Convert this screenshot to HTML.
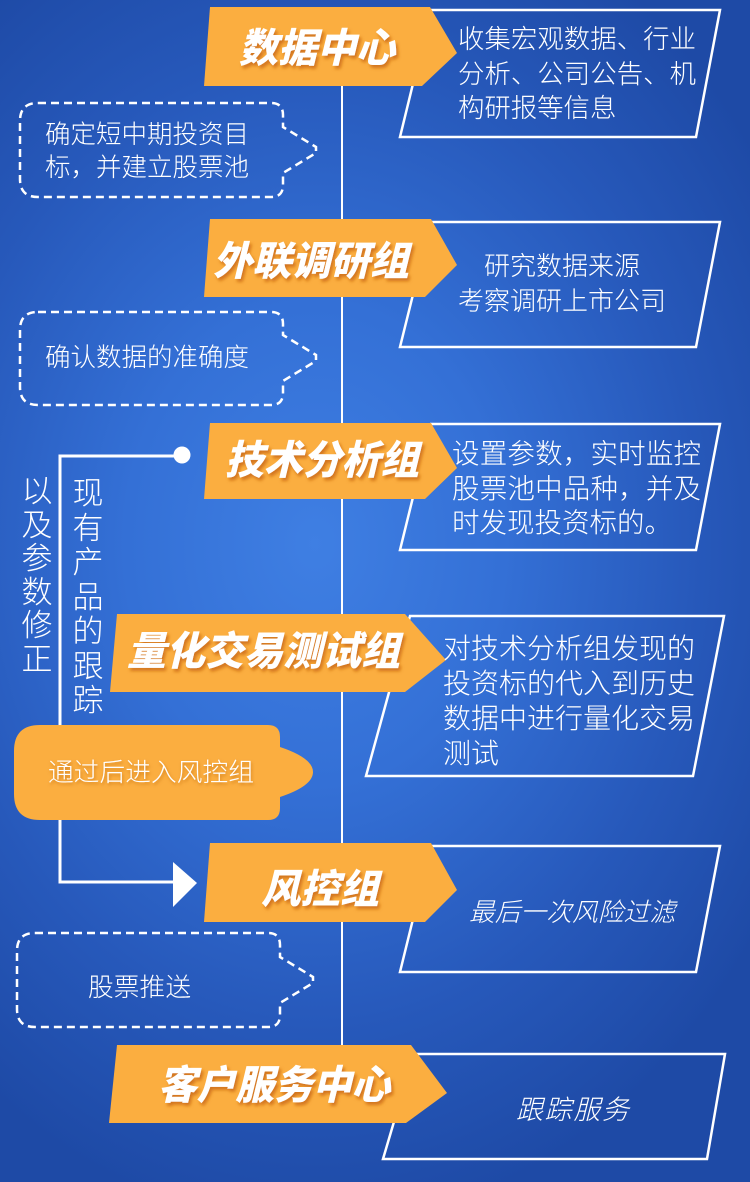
<!DOCTYPE html>
<html>
<head>
<meta charset="utf-8">
<style>
html,body{margin:0;padding:0;}
body{width:750px;height:1182px;overflow:hidden;
background:radial-gradient(ellipse 72% 58% at 42% 46%, #3f7fe3 0%, #3470d6 35%, #2759bb 70%, #1e4aa6 100%);}
svg{display:block;}
.t{font-family:"Liberation Sans","Noto Sans CJK SC",sans-serif;fill:#fff;}
.h{font-weight:900;font-style:italic;font-size:40px;}
.b{font-weight:300;}
</style>
</head>
<body>
<svg width="750" height="1182" viewBox="0 0 750 1182" xmlns="http://www.w3.org/2000/svg">
<defs>
<filter id="ts" x="-10%" y="-20%" width="130%" height="160%">
<feDropShadow dx="2" dy="3" stdDeviation="1.6" flood-color="#c4620a" flood-opacity="0.75"/>
</filter>
<filter id="ts2" x="-10%" y="-20%" width="130%" height="160%">
<feDropShadow dx="1" dy="2" stdDeviation="1.5" flood-color="#b35a08" flood-opacity="0.6"/>
</filter>
</defs>

<!-- center line -->
<line x1="342" y1="86" x2="342" y2="1045" stroke="#fff" stroke-width="2"/>

<!-- right boxes -->
<g fill="none" stroke="#fff" stroke-width="2.5">
<polygon points="431,10 720,10 696,137 400,137"/>
<polygon points="431,222 720,222 696,347 400,347"/>
<polygon points="431,424 720,424 696,550 400,550"/>
<polygon points="410,616 724,616 693,776 366,776"/>
<polygon points="431,846 720,846 696,972 400,972"/>
<polygon points="414,1054 725,1054 707,1159 383,1159"/>
</g>

<!-- connector -->
<path d="M182,456 H60 V882 H176" fill="none" stroke="#fff" stroke-width="3"/>
<circle cx="182" cy="455" r="8.5" fill="#fff"/>
<polygon points="173,862 197,883 173,907" fill="#fff"/>

<!-- orange banners -->
<g fill="#fbae40">
<polygon points="210,7 430,7 457,53 422,86 204,86"/>
<polygon points="210,219 431,219 457,265 425,297 204,297"/>
<polygon points="210,423 431,423 457,468 425,499 204,499"/>
<polygon points="117,614 405,614 446,660 405,692 110,692"/>
<polygon points="210,843 431,843 457,890 425,922 204,922"/>
<polygon points="117,1045 411,1045 447,1093 406,1123 109,1123"/>
</g>

<!-- dashed bubbles -->
<g fill="none" stroke="#fff" stroke-width="2.5" stroke-dasharray="8 5">
<path d="M38,103 H271 Q283,103 283,115 V127 L316,147 V153 L283,173 V185 Q283,197 271,197 H38 Q20,197 20,179 V121 Q20,103 38,103 Z"/>
<path d="M38,312 H271 Q283,312 283,324 V335 L316,355 V361 L283,381 V393 Q283,405 271,405 H38 Q20,405 20,387 V330 Q20,312 38,312 Z"/>
<path d="M35,933 H268 Q280,933 280,945 V957 L313,977 V983 L280,1003 V1015 Q280,1027 268,1027 H35 Q17,1027 17,1009 V951 Q17,933 35,933 Z"/>
</g>

<!-- orange bubble -->
<path d="M40,725 H268 Q280,725 280,737 V747 Q313,758 313,772 Q313,786 280,797 V808 Q280,820 268,820 H40 Q14,820 14,794 V751 Q14,725 40,725 Z" fill="#fbae40"/>

<!-- banner titles -->
<g class="t h" filter="url(#ts)">
<text x="239" y="62" textLength="156" lengthAdjust="spacingAndGlyphs">数据中心</text>
<text x="213" y="275" textLength="196" lengthAdjust="spacingAndGlyphs">外联调研组</text>
<text x="225" y="474" textLength="194" lengthAdjust="spacingAndGlyphs">技术分析组</text>
<text x="127" y="665" textLength="273" lengthAdjust="spacingAndGlyphs">量化交易测试组</text>
<text x="261" y="903" textLength="118" lengthAdjust="spacingAndGlyphs">风控组</text>
<text x="158" y="1099" textLength="232" lengthAdjust="spacingAndGlyphs">客户服务中心</text>
</g>

<!-- box texts -->
<g class="t b">
<text x="458" y="48" font-size="26.4" textLength="238">收集宏观数据、行业</text>
<text x="458" y="83" font-size="26.4" textLength="238">分析、公司公告、机</text>
<text x="458" y="117" font-size="26.4">构研报等信息</text>

<text x="562" y="275" font-size="26" text-anchor="middle">研究数据来源</text>
<text x="562" y="310" font-size="26" text-anchor="middle">考察调研上市公司</text>

<text x="452" y="463" font-size="27.5" textLength="249">设置参数，实时监控</text>
<text x="452" y="498" font-size="27.5" textLength="249">股票池中品种，并及</text>
<text x="452" y="532" font-size="27.5">时发现投资标的。</text>

<text x="443" y="658" font-size="28" textLength="252">对技术分析组发现的</text>
<text x="443" y="693" font-size="28" textLength="252">投资标的代入到历史</text>
<text x="443" y="728" font-size="28" textLength="252">数据中进行量化交易</text>
<text x="443" y="763" font-size="28">测试</text>

<text x="469" y="921" font-size="25.7" font-style="italic" textLength="206">最后一次风险过滤</text>
<text x="516" y="1119" font-size="27" font-style="italic" textLength="113">跟踪服务</text>

<text x="45" y="143" font-size="25.5" textLength="204">确定短中期投资目</text>
<text x="45" y="176" font-size="25.5" textLength="204">标，并建立股票池</text>
<text x="45" y="366" font-size="25.5" textLength="204">确认数据的准确度</text>
<text x="88" y="996" font-size="25.7" textLength="103">股票推送</text>
</g>

<g class="t b" filter="url(#ts2)">
<text x="48" y="781" font-size="25.7" textLength="206">通过后进入风控组</text>
</g>

<!-- vertical texts -->
<g class="t b" font-size="31" text-anchor="middle">
<text x="37" y="502">以</text>
<text x="37" y="536">及</text>
<text x="37" y="569">参</text>
<text x="37" y="603">数</text>
<text x="37" y="636">修</text>
<text x="37" y="670">正</text>

<text x="88" y="504">现</text>
<text x="88" y="539">有</text>
<text x="88" y="573">产</text>
<text x="88" y="608">品</text>
<text x="88" y="642">的</text>
<text x="88" y="677">跟</text>
<text x="88" y="711">踪</text>
</g>
</svg>
</body>
</html>
